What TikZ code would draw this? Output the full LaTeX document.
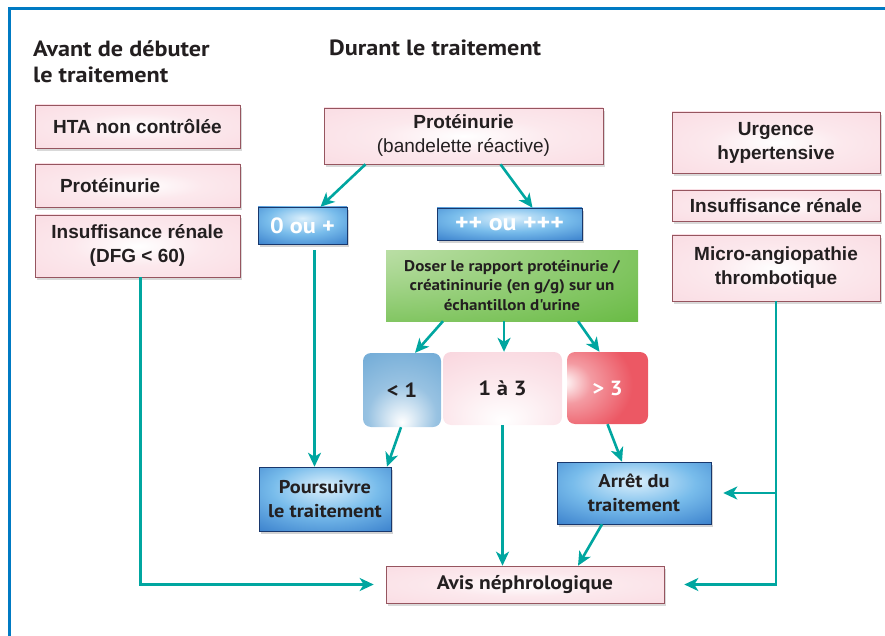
\documentclass[tikz,border=0pt]{standalone}
\usepackage{fontspec}
\setmainfont{Liberation Sans}
\newfontfamily\myriad[FakeStretch=1.1]{PT Sans}
\usepackage{tikz}
\usetikzlibrary{shadows}
\usetikzlibrary{arrows.meta}

\definecolor{framec}{RGB}{0,122,195}
\definecolor{tealc}{RGB}{0,166,160}
\definecolor{textc}{RGB}{35,31,32}
\definecolor{pinkc}{RGB}{249,214,222}
\definecolor{pinkline}{RGB}{150,85,95}
\definecolor{bluel}{RGB}{220,240,252}
\definecolor{bluem}{RGB}{120,188,235}
\definecolor{bluen}{RGB}{60,130,205}
\definecolor{blued}{RGB}{35,78,155}
\definecolor{lowc}{RGB}{118,174,216}
\definecolor{highc}{RGB}{236,88,100}
\definecolor{greenc}{RGB}{108,188,72}
\definecolor{greenl}{RGB}{222,238,208}

\pgfdeclareradialshading{pinkglow}{\pgfpoint{0bp}{0bp}}{color(0bp)=(white); color(16bp)=(pinkc!55!white); color(48bp)=(pinkc); color(100bp)=(pinkc)}
\pgfdeclareradialshading{blueglow}{\pgfpoint{0bp}{10bp}}{color(0bp)=(bluel); color(20bp)=(bluem); color(40bp)=(bluen); color(54bp)=(blued); color(100bp)=(blued)}
\pgfdeclareradialshading{lowglow}{\pgfpoint{0bp}{-22bp}}{color(0bp)=(white); color(22bp)=(lowc!75!white); color(42bp)=(lowc); color(100bp)=(lowc)}
\pgfdeclareradialshading{midglow}{\pgfpoint{0bp}{-22bp}}{color(0bp)=(white); color(25bp)=(pinkc!60!white); color(45bp)=(pinkc); color(100bp)=(pinkc)}
\pgfdeclareradialshading{highglow}{\pgfpoint{-28bp}{4bp}}{color(0bp)=(white); color(14bp)=(highc!60!white); color(34bp)=(highc); color(100bp)=(highc)}
\pgfdeclareradialshading{greenglow}{\pgfpoint{-50bp}{45bp}}{color(0bp)=(greenl); color(60bp)=(greenc); color(100bp)=(greenc)}

\begin{document}
\begin{tikzpicture}[x=1pt, y=-1pt,
	flow/.style={draw=tealc, line width=2.6pt, -{Stealth[length=14pt,width=13pt,inset=4pt]}},
	pinkbox/.style={draw=pinkline, line width=0.6pt, shading=pinkglow, drop shadow={shadow xshift=2pt,shadow yshift=-3pt,opacity=0.3}, text=textc, align=center, inner sep=2pt, font=\bfseries\fontsize{19}{24}\selectfont},
	bluebox/.style={draw=blued!70!black, line width=0.5pt, shading=blueglow, drop shadow={shadow xshift=2pt,shadow yshift=-3pt,opacity=0.35}, text=textc, align=center, inner sep=2pt, font=\myriad\bfseries\fontsize{18.5}{24}\selectfont},
	roundbox/.style={rounded corners=8pt, inner sep=0pt, text=textc, font=\myriad\bfseries\fontsize{20.5}{24}\selectfont},
	heading/.style={anchor=north west, inner sep=0pt, align=left, text=textc, font=\myriad\bfseries\fontsize{22}{26}\selectfont}
]
	\useasboundingbox (0,0) rectangle (885,636);

	% frame
	\draw [framec, line width=3pt] (9.5,636) -- (9.5,9) -- (885,9);

	\node [heading] (before) at (33,40) {Avant de débuter\\le traitement};
	\node [heading] (during) at (329,40) {Durant le traitement};

	% left column
	\node [pinkbox, minimum width=205, minimum height=43] (hta) at (137.5,126.5) {HTA non contrôlée};
	\node [pinkbox, minimum width=205, minimum height=43, text width=155, inner xsep=25pt, align=left] (protl) at (137.5,185.5) {Protéinurie};
	\node [pinkbox, minimum width=205, minimum height=62] (ir) at (137.5,246) {Insuffisance rénale\\(DFG < 60)};

	% right column
	\node [pinkbox, minimum width=208, minimum height=61] (urg) at (776,142.5) {Urgence\\hypertensive};
	\node [pinkbox, minimum width=208, minimum height=31] (irr) at (776,205.5) {Insuffisance rénale};
	\node [pinkbox, minimum width=208, minimum height=66] (mat) at (776,268) {Micro-angiopathie\\thrombotique};

	% middle
	\node [pinkbox, minimum width=279, minimum height=56] (prot) at (463.5,136) {Protéinurie\\{\mdseries(bandelette réactive)}};
	\node [bluebox, minimum width=89, minimum height=37, text=white, font=\myriad\bfseries\fontsize{22}{24}\selectfont] (zero) at (302.5,225.5) {0 ou +};
	\node [bluebox, minimum width=145, minimum height=32, text=white, font=\myriad\bfseries\fontsize{23.5}{24}\selectfont] (plus) at (509.5,224) {++ ou +++};
	\node [shading=greenglow, minimum width=252, minimum height=71, inner sep=0pt, align=center, text=textc, font=\myriad\bfseries\fontsize{15.5}{19.5}\selectfont] (dose) at (512,285.5) {Doser le rapport protéinurie /\\créatininurie (en g/g) sur un\\échantillon d'urine};

	\node [roundbox, shading=lowglow, minimum width=78, minimum height=74] (low) at (402,390) {< 1};
	\node [roundbox, shading=midglow, minimum width=119, minimum height=73] (mid) at (502.5,388.5) {1 à 3};
	\node [roundbox, shading=highglow, minimum width=81, minimum height=72, text=white] (high) at (607.5,388) {> 3};

	\node [bluebox, minimum width=132, minimum height=64] (pours) at (325,499) {Poursuivre\\le traitement};
	\node [bluebox, minimum width=154, minimum height=62] (arret) at (634,493) {Arrêt du\\traitement};
	\node [pinkbox, minimum width=278, minimum height=37, font=\myriad\bfseries\fontsize{19.5}{24}\selectfont] (avis) at (525,584.5) {Avis néphrologique};

	% arrows
	\draw [flow] ([xshift=-98]prot.south) -- ([xshift=18]zero.north);
	\draw [flow] ([xshift=37]prot.south) -- ([xshift=23]plus.north);

	\coordinate (zt) at ([xshift=12,yshift=-6]zero.south);
	\draw [flow] (zt) -- (zt |- pours.north);

	\draw [flow] ([xshift=-69]dose.south) -- ([xshift=13]low.north);
	\coordinate (dm) at ([xshift=-8]dose.south);
	\draw [flow] (dm) -- (dm |- mid.north);
	\draw [flow] ([xshift=66]dose.south) -- ([xshift=-8]high.north);

	\draw [flow] ([xshift=-1]low.south) -- ([xshift=62]pours.north);
	\draw [flow] (mid.south) -- (mid.south |- avis.north);
	\draw [flow] (high.south) -- ([xshift=-12]arret.north);
	\draw [flow] ([xshift=-32]arret.south) -- ([xshift=53]avis.north);

	\draw [flow, shorten >=12pt] ([xshift=3]ir.south) |- (avis.west);
	\draw [flow, shorten >=20pt] (mat.south) |- (avis.east);
	\draw [flow, shorten >=12pt] (mat.south |- arret.east) -- (arret.east);

\end{tikzpicture}
\end{document}
